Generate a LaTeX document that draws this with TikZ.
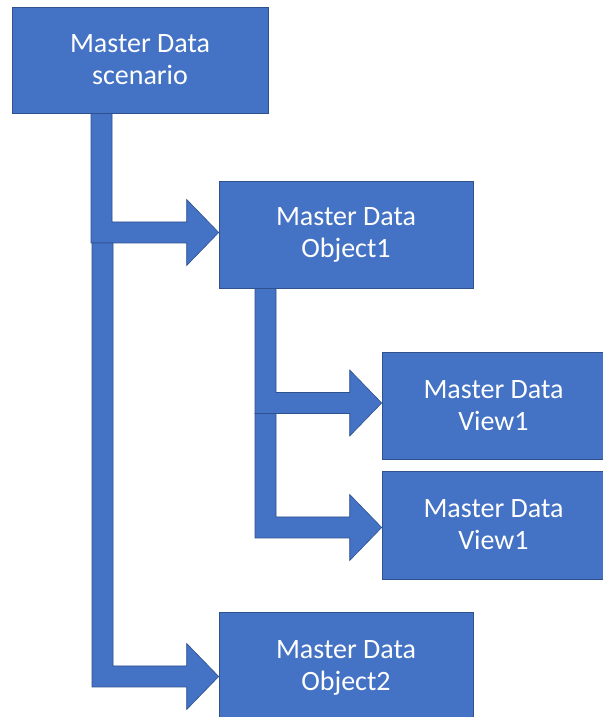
\documentclass[tikz,border=0pt]{standalone}
\usepackage{fontspec}
\setmainfont{Carlito}
\usetikzlibrary{calc}
\pgfdeclarelayer{background}
\pgfsetlayers{background,main}
\definecolor{boxblue}{HTML}{4472C4}
\definecolor{edgeblue}{HTML}{2F528F}
\tikzset{
  mdbox/.style={rectangle, fill=boxblue, draw=edgeblue, line width=0.6pt,
    text=white, align=center, inner sep=0pt,
    font=\fontsize{28}{32}\selectfont},
  blockarrow/.style={fill=boxblue, draw=edgeblue, line width=0.6pt, line join=miter}
}
% #1 bar left x, #2 top y, #3 tip y, #4 target node
\newcommand\bentarrow[4]{%
  \draw[blockarrow] let \p1=(#4.west) in
    (#1,#2) -- (#1+21,#2) -- (#1+21,#3+10.5) -- (\x1-32,#3+10.5)
    -- (\x1-32,#3+33) -- (\x1,#3) -- (\x1-32,#3-33) -- (\x1-32,#3-10.5)
    -- (#1,#3-10.5) -- cycle;}
\begin{document}
\begin{tikzpicture}[x=1pt,y=1pt]
\useasboundingbox (0,0) rectangle (602,717);
% boxes
\node[mdbox, minimum width=256pt, minimum height=106pt] (b1) at (140,657) {Master Data\\scenario};
\node[mdbox, minimum width=254pt, minimum height=107pt] (b2) at (346,482.5) {Master Data\\Object1};
\node[mdbox, minimum width=223pt, minimum height=107pt] (b3) at (493.5,311.5) {Master Data\\View1};
\node[mdbox, minimum width=223pt, minimum height=108pt] (b4) at (493.5,192) {Master Data\\View1};
\node[mdbox, minimum width=254pt, minimum height=112pt] (b5) at (346,49) {Master Data\\Object2};
% arrows behind the boxes
\begin{pgfonlayer}{background}
\fill[white] (0,0) rectangle (602,717);
\bentarrow{91}{604}{484.5}{b2}
\bentarrow{92}{474}{40.5}{b5}
\bentarrow{255}{429}{314}{b3}
\bentarrow{255}{303.5}{189.5}{b4}
\end{pgfonlayer}
\end{tikzpicture}
\end{document}
